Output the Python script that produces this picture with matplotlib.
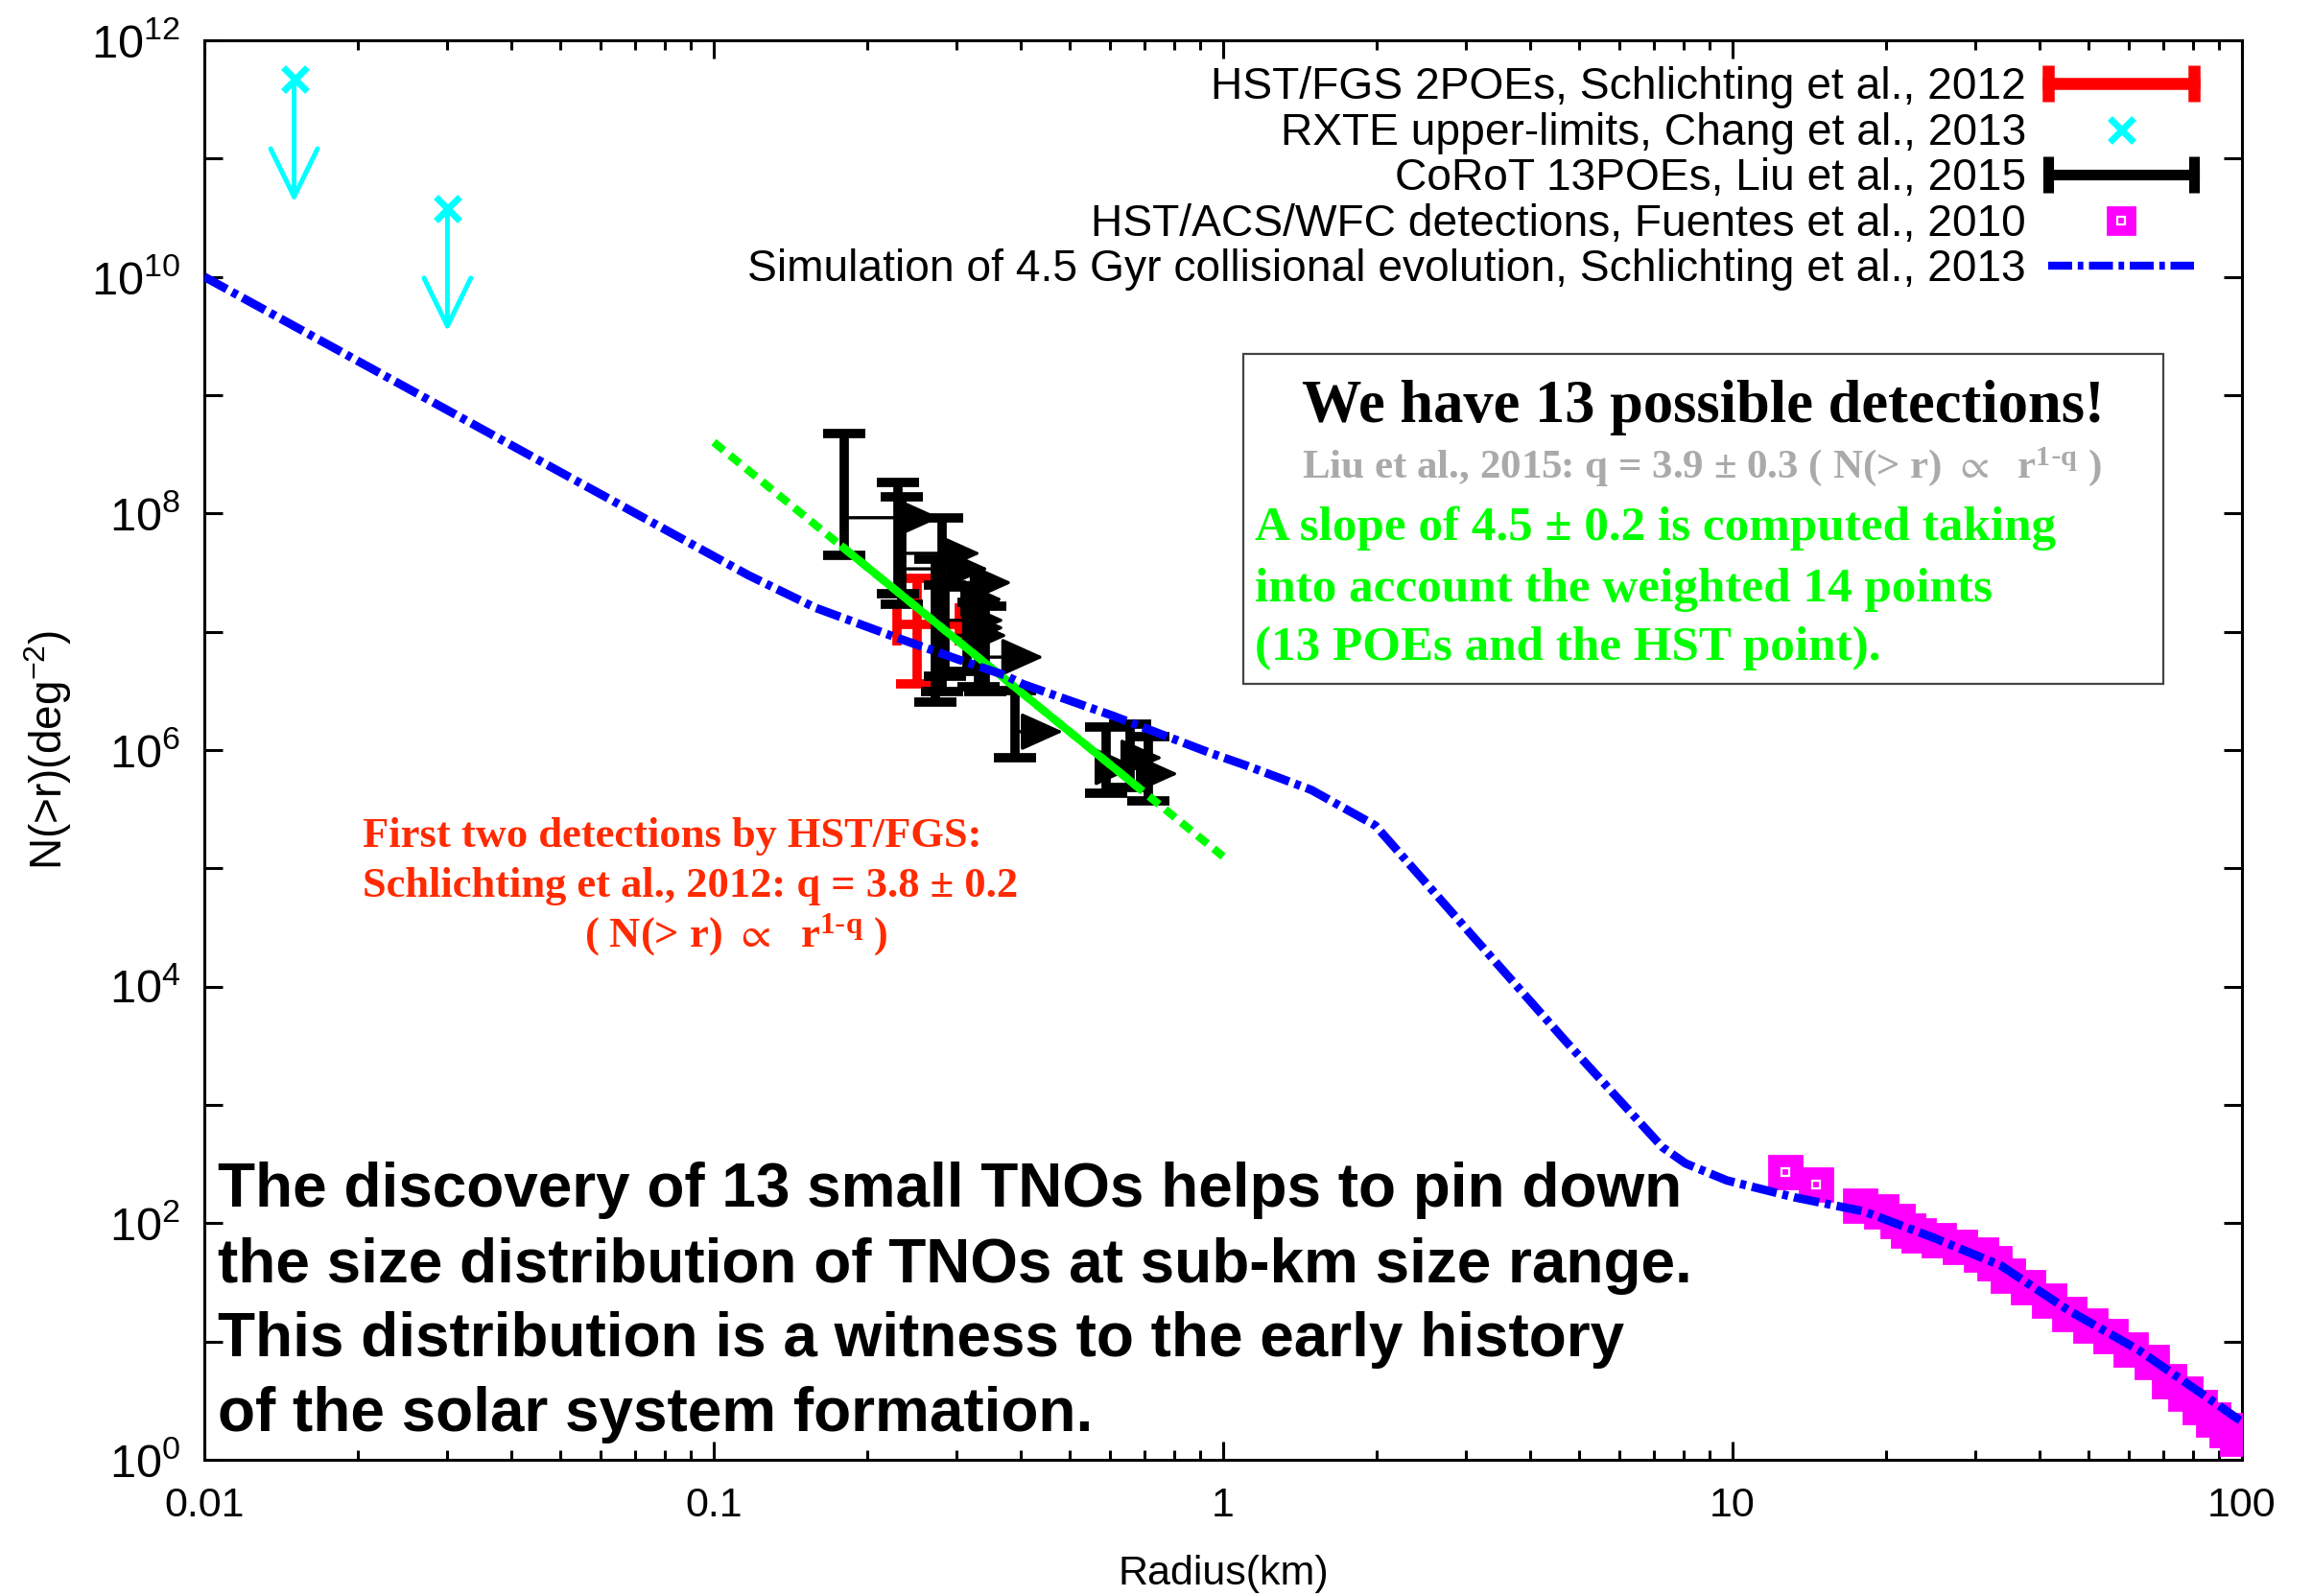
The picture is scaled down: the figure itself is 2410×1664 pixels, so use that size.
import numpy as np
import matplotlib
matplotlib.use("Agg")
from matplotlib import pyplot as plt
from matplotlib.lines import Line2D
from matplotlib.patches import Rectangle
from matplotlib.legend_handler import HandlerLine2D
from matplotlib.ticker import FixedLocator, FuncFormatter, NullLocator, LogLocator

plt.rcParams['font.family'] = ['Liberation Sans', 'DejaVu Sans']
plt.rcParams['mathtext.default'] = 'regular'

# simulation of 4.5 Gyr collisional evolution (Schlichting et al. 2013)
sim_r = [0.01, 0.117, 0.158, 0.224, 0.303, 0.372, 0.405, 0.607, 0.94, 1.11, 1.49, 1.99,
         3.06, 4.72, 7.28, 8.09, 9.75, 13.2, 18.1, 24.7, 33.6, 45.8, 62.6, 85.2, 100]
sim_N = [1.0e10, 3.0e7, 1.6e7, 9.2e6, 5.8e6, 4.3e6, 3.6e6, 1.95e6, 9.5e5, 7.4e5, 4.6e5, 2.3e5,
         2.8e4, 3.4e3, 440, 320, 230, 166, 126, 76, 44, 18.2, 8.5, 3.4, 2.1]

# HST/ACS/WFC detections (Fuentes et al. 2010)
fuentes_r = [12.7, 14.6, 17.8, 19.6, 21.1, 22.1, 23.2, 25.4, 27.9, 30.7, 32.6, 34.7, 38.1,
             41.8, 45.8, 50.3, 55.2, 60.6, 66.5, 71.8, 77.6, 82.6, 87.8, 93.5, 97.9]
fuentes_N = [270, 214, 142, 125, 104, 86, 79, 72, 63, 54, 46, 36, 29,
             22, 17.1, 13.7, 11.1, 8.6, 6.7, 4.6, 3.6, 2.8, 2.2, 1.8, 1.5]

# CoRoT 13 POEs (Liu et al. 2015)
corot_r = [0.180, 0.230, 0.234, 0.281, 0.272, 0.284, 0.331, 0.341, 0.390, 0.589, 0.657, 0.713, 0.314]
corot_N = [9.2e7, 4.6e7, 3.4e7, 2.6e7, 1.25e7, 9.3e6, 6.1e6, 1.08e7, 1.43e6, 7.2e5, 8.6e5, 6.3e5, 1.88e7]
corot_lo = [4.4e7, 2.1e7, 1.7e7, 3.1e6, 2.55e6, 4.2e6, 3.4e6, 3.1e6, 8.6e5, 4.3e5, 4.8e5, 3.7e5, 4.6e6]
corot_hi = [4.7e8, 1.84e8, 1.39e8, 9.2e7, 4.1e7, 2.5e7, 1.78e7, 1.65e7, 3.2e6, 1.57e6, 1.66e6, 1.30e6, 2.4e7]
corot_rmax = [0.278, 0.334, 0.346, 0.385, 0.372, 0.377, 0.444, 0.372, 0.485, 0.677, 0.761, 0.816, 0.369]

# HST/FGS (Schlichting et al. 2012)
hst_r = 0.251
hst_N = 1.15e7
hst_r_range = [0.229, 0.303]
hst_N_range = [3.6e6, 2.8e7]

# RXTE upper limits (Chang et al. 2013)
rxte_r = [0.015, 0.030]
rxte_N = [4.7e11, 3.8e10]

# weighted fit, slope 4.5
fit_r = [0.1, 0.18, 0.68, 1.0]
fit_N = [4.0e8, 5.1e7, 4.85e5, 1.26e5]

fig = plt.figure(figsize=(12.05, 8.32), dpi=200)
ax = fig.add_axes([0.0884, 0.0853, 0.8813, 0.8895])
ax.set_xscale('log')
ax.set_yscale('log')
ax.set_xlim(0.01, 100)
ax.set_ylim(1, 1e12)

# HST point
ax.errorbar([hst_r], [hst_N],
            xerr=[[hst_r - hst_r_range[0]], [hst_r_range[1] - hst_r]],
            yerr=[[hst_N - hst_N_range[0]], [hst_N_range[1] - hst_N]],
            fmt='none', ecolor='red', elinewidth=3.5, capsize=8, capthick=3.5, zorder=2)

# CoRoT points with arrows
yerr = [np.array(corot_N) - np.array(corot_lo), np.array(corot_hi) - np.array(corot_N)]
ax.errorbar(corot_r, corot_N, yerr=yerr, fmt='none', ecolor='k', elinewidth=3.5,
            capsize=8, capthick=3.5, zorder=3)
for r0, n0, r1 in zip(corot_r, corot_N, corot_rmax):
    ax.annotate('', xy=(r1, n0), xytext=(r0, n0),
                arrowprops=dict(arrowstyle='-|>,head_length=0.6,head_width=0.27',
                                mutation_scale=23, color='k', lw=1.2,
                                shrinkA=0, shrinkB=0), zorder=3)

# RXTE upper limits
ax.plot(rxte_r, rxte_N, ls='none', marker='x', color='cyan', ms=9, mew=2.5, zorder=3)
for r0, n0 in zip(rxte_r, rxte_N):
    ax.annotate('', xy=(r0, n0 / 11), xytext=(r0, n0),
                arrowprops=dict(arrowstyle='->,head_length=0.45,head_width=0.22',
                                mutation_scale=40, color='cyan', lw=1.8,
                                shrinkA=0, shrinkB=0), zorder=3)

# Fuentes
ax.plot(fuentes_r, fuentes_N, ls='none', marker='s', color='magenta', ms=12, zorder=3)
ax.plot(fuentes_r[:2], fuentes_N[:2], ls='none', marker='s', mfc='none', mec='white',
        ms=3, mew=0.8, zorder=3)

# fit line
ax.plot(fit_r, fit_N, color='#00ff00', lw=3, ls=(0, (1.6, 1.0)), zorder=4)
ax.plot(fit_r[1:3], fit_N[1:3], color='#00ff00', lw=3, zorder=4)

# simulation
ax.plot(sim_r, sim_N, color='blue', lw=3.2, ls=(0, (3, 0.7, 0.7, 0.7)), zorder=5)

# axes and ticks
ax.xaxis.set_major_locator(FixedLocator([0.01, 0.1, 1, 10, 100]))
ax.xaxis.set_major_formatter(FuncFormatter(lambda v, p: '%g' % v))
ax.xaxis.set_minor_locator(LogLocator(base=10, subs=np.arange(2, 10), numticks=20))
ax.yaxis.set_major_locator(FixedLocator([10.0 ** k for k in range(13)]))
ax.yaxis.set_major_formatter(FuncFormatter(
    lambda v, p: '$10^{%d}$' % round(np.log10(v)) if round(np.log10(v)) % 2 == 0 else ''))
ax.yaxis.set_minor_locator(NullLocator())
ax.tick_params(which='both', direction='in', top=True, right=True, width=1.1)
ax.tick_params(axis='x', labelsize=15.5, pad=10)
ax.tick_params(axis='y', labelsize=17.5, pad=9)
ax.tick_params(which='major', length=7)
ax.tick_params(which='minor', length=3.6)
for s in ax.spines.values():
    s.set_linewidth(1.1)

ax.set_xlabel('Radius(km)', fontsize=15.5)
ax.set_ylabel('N(>r)(deg$^{-2}$)', fontsize=16.5)
ax.xaxis.set_label_coords(0.5, -0.067)
ax.yaxis.set_label_coords(-0.064, 0.5)

# legend
h_red = Line2D([], [], color='red', lw=4.5, marker='|', ms=14, mew=4.5)
h_cyan = Line2D([], [], ls='none', marker='x', color='cyan', ms=9, mew=2.5)
h_black = Line2D([], [], color='k', lw=4, marker='|', ms=14, mew=4)
h_mag = (Line2D([], [], ls='none', marker='s', color='magenta', ms=10),
         Line2D([], [], ls='none', marker='s', mfc='none', mec='white', ms=3, mew=0.8))
h_blue = Line2D([], [], color='blue', lw=3, ls=(0, (3, 0.7, 0.7, 0.7)))
labels = ['HST/FGS 2POEs, Schlichting et al., 2012',
          'RXTE upper-limits, Chang et al., 2013',
          'CoRoT 13POEs, Liu et al., 2015',
          'HST/ACS/WFC detections, Fuentes et al., 2010',
          'Simulation of 4.5 Gyr collisional evolution, Schlichting et al., 2013']
ax.legend([h_red, h_cyan, h_black, h_mag, h_blue], labels, loc='upper right',
          bbox_to_anchor=(0.9765, 0.9815), borderaxespad=0, borderpad=0, frameon=False,
          markerfirst=False, handlelength=3.3, handletextpad=0.5, labelspacing=0.075,
          fontsize=16.6, numpoints=1,
          handler_map={h_red: HandlerLine2D(numpoints=2, marker_pad=0),
                       h_black: HandlerLine2D(numpoints=2, marker_pad=0)})

# annotation box
serif = ['Liberation Serif', 'DejaVu Serif']
ax.add_patch(Rectangle((0.5099, 0.5466), 0.4515, 0.2325, transform=ax.transAxes,
                       facecolor='white', edgecolor='#444444', lw=0.8, zorder=1))
ax.text(0.7354, 0.7311, 'We have 13 possible detections!', transform=ax.transAxes,
        ha='center', va='baseline', fontsize=22.5, family=serif, weight='bold')
ax.text(0.7349, 0.6919,
        r'Liu et al., 2015: q = 3.9 ± 0.3 ( N(> r) $\propto$  $r^{1\text{-}q}$ )',
        transform=ax.transAxes, ha='center', va='baseline', fontsize=15.5,
        family=serif, weight='bold', color='#aaaaaa')
green_lines = ['A slope of 4.5 ± 0.2 is computed taking',
               'into account the weighted 14 points',
               '(13 POEs and the HST point).']
for txt, yy in zip(green_lines, [0.6480, 0.6047, 0.5635]):
    ax.text(0.5155, yy, txt, transform=ax.transAxes, ha='left', va='baseline',
            fontsize=18.4, family=serif, weight='bold', color='#00ff00')

# red note
red = '#ff2a00'
ax.text(0.0777, 0.4318, 'First two detections by HST/FGS:', transform=ax.transAxes,
        ha='left', va='baseline', fontsize=16, family=serif, weight='bold', color=red)
ax.text(0.0777, 0.3966, 'Schlichting et al., 2012: q = 3.8 ± 0.2', transform=ax.transAxes,
        ha='left', va='baseline', fontsize=16, family=serif, weight='bold', color=red)
ax.text(0.2608, 0.3615, r'( N(> r) $\propto$  $r^{1\text{-}q}$ )', transform=ax.transAxes,
        ha='center', va='baseline', fontsize=16, family=serif, weight='bold', color=red)

# bottom statement
bottom_lines = ['The discovery of 13 small TNOs helps to pin down',
                'the size distribution of TNOs at sub-km size range.',
                'This distribution is a witness to the early history',
                'of the solar system formation.']
for txt, yy in zip(bottom_lines, [0.1784, 0.1250, 0.0730, 0.0203]):
    ax.text(0.0066, yy, txt, transform=ax.transAxes, ha='left', va='baseline',
            fontsize=23, weight='bold', color='k')

fig.savefig('out.png', dpi=200)
